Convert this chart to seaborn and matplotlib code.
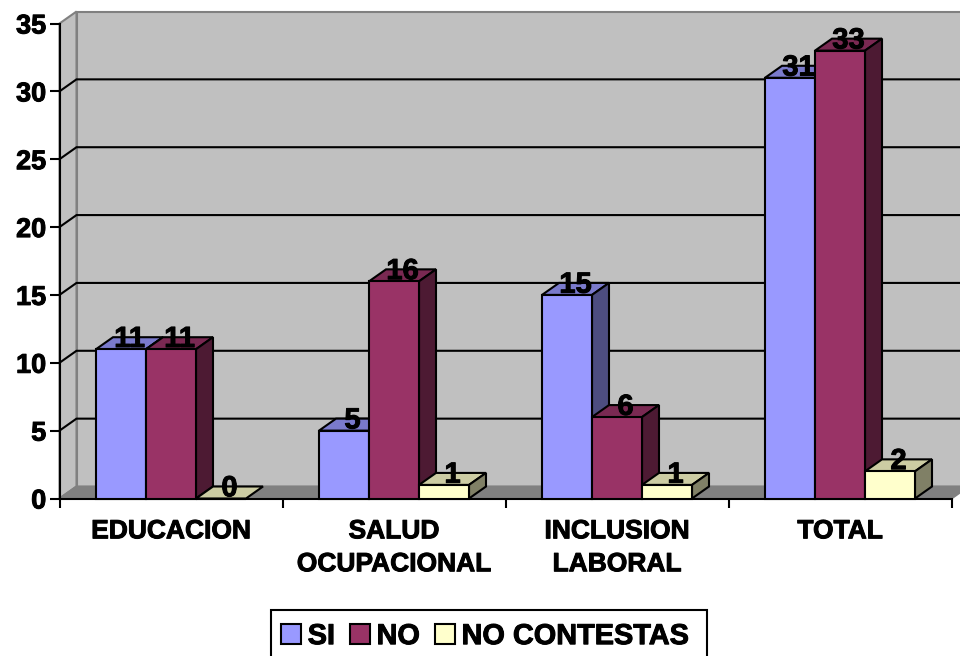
import pandas as pd
import matplotlib.pyplot as plt
import matplotlib.patheffects as pe
import seaborn as sns
from matplotlib.patches import Polygon, Rectangle

# data
categories = ["EDUCACION", "SALUD\nOCUPACIONAL", "INCLUSION\nLABORAL", "TOTAL"]
si_values = [11, 5, 15, 31]
no_values = [11, 16, 6, 33]
nc_values = [0, 1, 1, 2]
series_names = ["SI", "NO", "NO CONTESTAS"]
series_colors = ["#9999FF", "#993366", "#FFFFCC"]
y_ticks = [0, 5, 10, 15, 20, 25, 30, 35]

# pixel geometry of the reference
W, H = 960, 656
AX_L, AX_R, AX_T, AX_B = 59.5, 951.5, 23.5, 498.5
DEPTH_X, DEPTH_Y = 17, 12
LW = 1.5
HEAVY = [pe.withStroke(linewidth=0.7, foreground="black")]


def shade(color, factor):
    r, g, b = plt.matplotlib.colors.to_rgb(color)
    return (r * factor, g * factor, b * factor)


sns.set_theme(style="white")
plt.rcParams["font.family"] = ["Liberation Sans", "DejaVu Sans"]
plt.rcParams["font.weight"] = "bold"
plt.rcParams["text.color"] = "black"
plt.rcParams["xtick.labelcolor"] = "black"
plt.rcParams["ytick.labelcolor"] = "black"

df = pd.DataFrame({
    "categoria": categories * 3,
    "serie": sum([[s] * len(categories) for s in series_names], []),
    "valor": si_values + no_values + nc_values,
})

fig = plt.figure(figsize=(W / 100, H / 100), dpi=100)
ax = fig.add_axes([AX_L / W, 1 - AX_B / H, (AX_R - AX_L) / W, (AX_B - AX_T) / H])

sns.barplot(
    data=df, x="categoria", y="valor", hue="serie",
    hue_order=series_names, palette=series_colors, saturation=1,
    width=150 / 223, gap=0, edgecolor="black", linewidth=LW, ax=ax,
)

ax.set_xlim(-0.5, len(categories) - 0.5)
ax.set_ylim(y_ticks[0], y_ticks[-1])
ax.set_xlabel("")
ax.set_ylabel("")

# depth of the fake 3D box, in data units
dx = DEPTH_X * (len(categories)) / (AX_R - AX_L)
dy = DEPTH_Y * (y_ticks[-1] - y_ticks[0]) / (AX_B - AX_T)
x0, x1 = ax.get_xlim()
y0, y1 = ax.get_ylim()

# walls and floor
ax.add_patch(Polygon([(x0 + dx, y0 + dy), (x1 + dx, y0 + dy), (x1 + dx, y1 + dy), (x0 + dx, y1 + dy)],
                     fc="#C0C0C0", ec="#808080", lw=LW, clip_on=False, zorder=0.5))
ax.add_patch(Polygon([(x0, y0), (x0 + dx, y0 + dy), (x0 + dx, y1 + dy), (x0, y1)],
                     fc="#C0C0C0", ec="#808080", lw=LW, clip_on=False, zorder=0.5))
ax.add_patch(Polygon([(x0, y0), (x1, y0), (x1 + dx, y0 + dy), (x0 + dx, y0 + dy)],
                     fc="#808080", ec="#808080", lw=LW, clip_on=False, zorder=0.6))

# gridlines run along the back wall and down the side wall
for t in y_ticks[1:-1]:
    ax.plot([x0, x0 + dx, x1 + dx], [t, t + dy, t + dy], color="black", lw=LW,
            clip_on=False, zorder=0.7, solid_joinstyle="miter")

# bars get their top and side faces, drawn left to right
for h, container in enumerate(ax.containers):
    color = series_colors[h]
    for bar in container:
        bx, bw, bh = bar.get_x(), bar.get_width(), bar.get_height()
        z = 3 + h
        bar.set_zorder(z)
        bar.set_clip_on(False)
        ax.add_patch(Polygon([(bx, bh), (bx + bw, bh), (bx + bw + dx, bh + dy), (bx + dx, bh + dy)],
                             fc=shade(color, 0.8), ec="black", lw=LW, clip_on=False, zorder=z - 0.2,
                             joinstyle="miter"))
        if bh > 0:
            ax.add_patch(Polygon([(bx + bw, 0), (bx + bw + dx, dy), (bx + bw + dx, bh + dy), (bx + bw, bh)],
                                 fc=shade(color, 0.5), ec="black", lw=LW, clip_on=False, zorder=z - 0.2,
                                 joinstyle="miter"))
        ax.text(bx + bw / 2 + dx / 2, bh + dy * 0.85, f"{bh:.0f}", ha="center", va="center",
                fontsize=21, color="black", zorder=10, clip_on=False, path_effects=HEAVY)

# axes and ticks
for side in ["top", "right"]:
    ax.spines[side].set_visible(False)
for side in ["left", "bottom"]:
    ax.spines[side].set_linewidth(LW)
    ax.spines[side].set_color("black")
    ax.spines[side].set_zorder(2.5)

ax.set_yticks(y_ticks)
ax.tick_params(axis="y", length=7, width=LW, color="black", labelsize=19.5, pad=2.5, left=True)
ax.set_xticks(range(len(categories)))
ax.set_xticklabels(categories, fontsize=19, linespacing=1.47)
ax.tick_params(axis="x", which="major", length=0, pad=15, bottom=False)
ax.set_xticks([x0 + i for i in range(len(categories) + 1)], minor=True)
ax.tick_params(axis="x", which="minor", length=6.5, width=LW, color="black", bottom=True)
for label in ax.get_xticklabels() + ax.get_yticklabels():
    label.set_path_effects(HEAVY)

# legend box runs off the bottom of the picture like the reference
fig.add_artist(Rectangle((271 / W, 1 - 670 / H), 436 / W, 60 / H, transform=fig.transFigure,
                         fc="white", ec="black", lw=LW, zorder=1))
handles, labels = ax.get_legend_handles_labels()
ax.get_legend().remove()
leg = fig.legend(
    handles, labels, ncol=3, loc="upper left", bbox_to_anchor=(269 / W, 1 - 610 / H),
    bbox_transform=fig.transFigure, borderaxespad=0,
    fontsize=20.8, frameon=False,
    handlelength=0.7, handleheight=0.7, handletextpad=0.22, columnspacing=0.52, borderpad=0.42,
)
for text in leg.get_texts():
    text.set_path_effects(HEAVY)

fig.savefig("out.png", dpi=100)
